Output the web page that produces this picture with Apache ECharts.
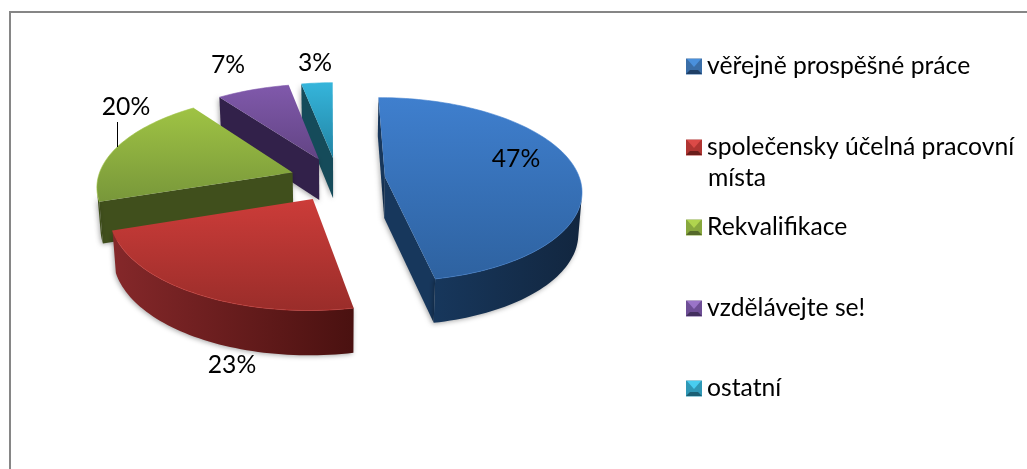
<!DOCTYPE html>
<html><head><meta charset="utf-8">
<style>html,body{margin:0;padding:0;background:#fff}#c{width:1027px;height:469px}</style>
<script src="https://cdn.jsdelivr.net/npm/echarts@6/dist/echarts.min.js"></script>
</head><body><div id="c"></div>
<script>
const categories = ['věřejně prospěšné práce','společensky účelná pracovní místa','Rekvalifikace','vzdělávejte se!','ostatní'];
const values = [47,23,20,7,3];

const topLight = ['#3f7fce','#cc3c39','#9fc344','#8059ab','#35b5db'];
const topDark  = ['#2e62a0','#9a2d2a','#78973a','#624484','#2284a4'];
const wallLeft = ['#17375c','#85282a','#404f1c','#32214a','#154b5a'];
const wallRight= ['#12263f','#4a1110','#404f1c','#32214a','#154b5a'];
const swatchLight=['#4a90dc','#dc4a47','#b0d44e','#9a74c8','#48cdf0'];
const swatchMid = ['#3a6ea8','#b03532','#88a83e','#6e4e96','#2f98b6'];
const swatchDark= ['#1f3f66','#6a1d1b','#55692a','#43305f','#1b6075'];

const FONT = 'Lato, Carlito, "Open Sans", sans-serif';
const FS = 24.7;
const O = {x:337.6,y:179.3}, R=195, EXPL=47.7, TILT=.465, D=1450, H=41, BASEK=.985, START=-0.3;
const labelPos = [[516,159],[232,365],[126,107],[228,65],[315,63]];
const legendTop = [58,139,219,300,380];
const LEG_X = 686, SW = 16, LH = 24;

const total = values.reduce((a,b)=>a+b,0);
const rad = d=>d*Math.PI/180;
function proj(X,Y,z){
  let k = 1/(1-Y/D);
  const kz = z ? k*BASEK : k;
  return [O.x+X*kz, O.y+Y*TILT*k + (z?H*Math.sqrt(k):0)];
}
function area(q){let s=0;for(let i=0;i<q.length;i++){const a=q[i],b=q[(i+1)%q.length];s+=a[0]*b[1]-b[0]*a[1];}return s;}
function grad(x0,y0,x1,y1,c0,c1){return {type:'linear',x:x0,y:y0,x2:x1,y2:y1,colorStops:[{offset:0,color:c0},{offset:1,color:c1}]};}

function renderSlice(i){
  return function(){
    let cum=0; for(let j=0;j<i;j++) cum+=values[j];
    const a0=START+cum/total*360, a1=a0+values[i]/total*360, mid=(a0+a1)/2;
    const ex=EXPL*Math.sin(rad(mid)), ey=-EXPL*Math.cos(rad(mid));
    const P=(th,z)=>proj(ex+R*Math.sin(rad(th)),ey-R*Math.cos(rad(th)),z);
    const A=z=>proj(ex,ey,z);
    const N=Math.max(6,Math.round((a1-a0)/1.5));
    const ths=[];for(let n=0;n<=N;n++)ths.push(a0+(a1-a0)*n/N);
    const kids=[];
    const shadow={shadowBlur:5,shadowColor:'rgba(0,0,0,.35)',shadowOffsetX:-1,shadowOffsetY:1};
    [[A(0),P(a0,0),P(a0,1),A(1)],[P(a1,0),A(0),A(1),P(a1,1)]].forEach(q=>{
      if(area(q)<0) kids.push({type:'polygon',shape:{points:q},style:Object.assign({fill:wallLeft[i],lineWidth:0},shadow)});
    });
    const vis=[];
    for(let n=0;n<N;n++){
      const q=[P(ths[n],0),P(ths[n+1],0),P(ths[n+1],1),P(ths[n],1)];
      if(area(q)<0){ if(!vis.length) vis.push(ths[n]); vis.push(ths[n+1]); }
    }
    if(vis.length){
      const pts=vis.map(t=>P(t,0)).concat(vis.slice().reverse().map(t=>P(t,1)));
      kids.push({type:'polygon',shape:{points:pts},style:Object.assign({fill:grad(0,0,1,0,wallLeft[i],wallRight[i]),lineWidth:0},shadow)});
    }
    const topPts=[A(0)].concat(ths.map(t=>P(t,0)));
    kids.push({type:'polygon',shape:{points:topPts},style:{fill:grad(0,0,0,1,topLight[i],topDark[i]),lineWidth:0}});
    kids.push({type:'polyline',shape:{points:ths.map(t=>P(t,0))},style:{fill:null,stroke:topLight[i],lineWidth:1,opacity:.6}});
    kids.push({type:'text',style:{text:values[i]+'%',x:labelPos[i][0],y:labelPos[i][1],fontSize:FS,fontFamily:FONT,fill:'#000',align:'center',verticalAlign:'middle'}});
    return {type:'group',children:kids};
  };
}

const paintOrder=[4,3,2,1,0];
const series=categories.map((name,i)=>({
  type:'custom',name,coordinateSystem:'none',z:paintOrder[i]+2,
  data:[[values[i]]],itemStyle:{color:swatchMid[i]},
  renderItem:renderSlice(i),silent:true,animation:false
}));
const legend=categories.map((name,i)=>({
  data:[{name,icon:'rect',itemStyle:{color:swatchMid[i]}}],
  left:LEG_X,top:legendTop[i]-(LH-SW)/2,padding:0,itemWidth:SW,itemHeight:SW,selectedMode:false,
  formatter:n=>n.replace(' místa',''),
  textStyle:{fontFamily:FONT,fontSize:FS,color:'#000',lineHeight:LH}
}));
const graphic=[
  {type:'rect',z:0,shape:{x:10,y:12,width:1030,height:470},style:{fill:null,stroke:'#868686',lineWidth:2}},
  {type:'text',z:10,style:{text:'místa',x:708,y:178,fontSize:FS,fontFamily:FONT,fill:'#000',verticalAlign:'middle'}},
  {type:'line',z:10,shape:{x1:117.5,y1:122,x2:117.5,y2:147},style:{stroke:'#000',lineWidth:1}}
];
legendTop.forEach((t,i)=>{
  graphic.push({type:'polygon',z:20,shape:{points:[[LEG_X+1,t+1],[LEG_X+SW-1,t+1],[LEG_X+SW/2,t+SW/2+1]]},style:{fill:swatchLight[i]}});
  graphic.push({type:'polygon',z:20,shape:{points:[[LEG_X,t+SW],[LEG_X+SW,t+SW],[LEG_X+SW-4,t+SW-4],[LEG_X+4,t+SW-4]]},style:{fill:swatchDark[i]}});
});
const chart=echarts.init(document.getElementById('c'),null,{renderer:'canvas'});
chart.setOption({animation:false,backgroundColor:'#fff',legend,series,graphic});
</script></body></html>
